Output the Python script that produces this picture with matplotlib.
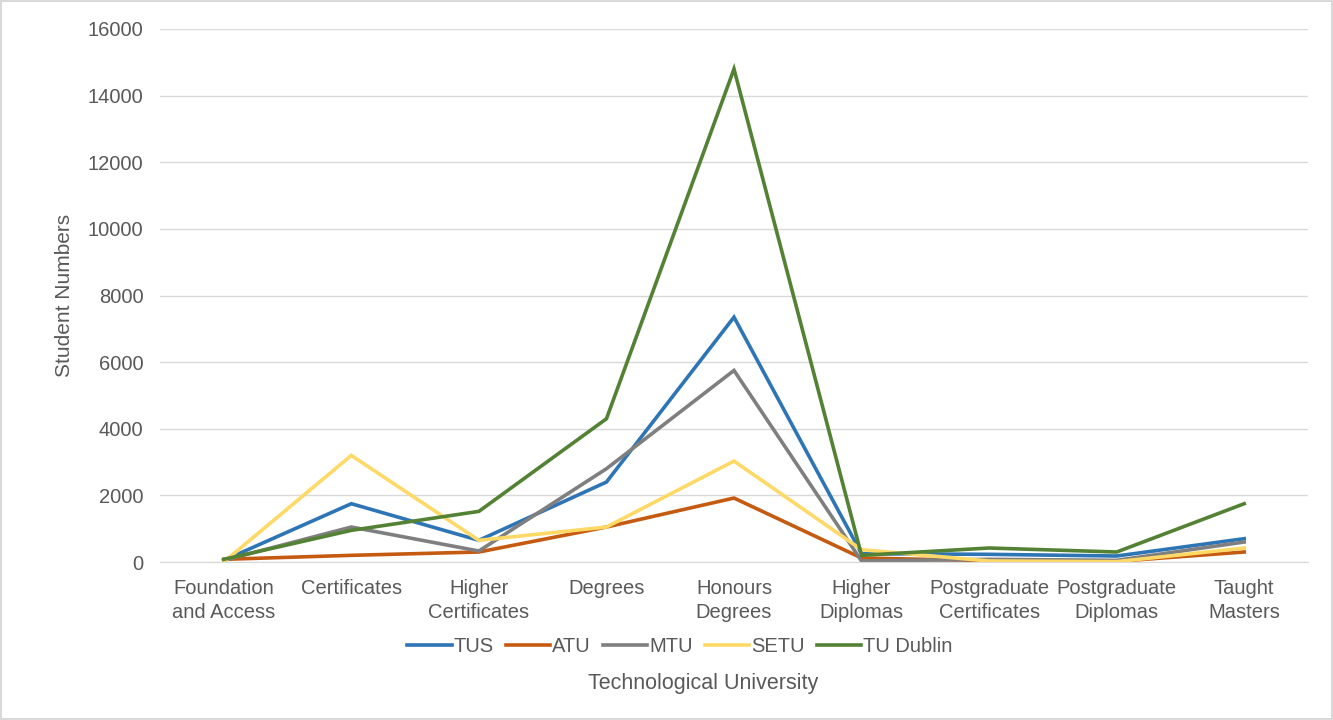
import numpy as np
import matplotlib.pyplot as plt

categories = ['Foundation\nand Access', 'Certificates', 'Higher\nCertificates', 'Degrees',
              'Honours\nDegrees', 'Higher\nDiplomas', 'Postgraduate\nCertificates',
              'Postgraduate\nDiplomas', 'Taught\nMasters']
tus = [50, 1750, 650, 2400, 7350, 250, 230, 180, 700]
atu = [80, 200, 300, 1050, 1920, 120, 40, 20, 300]
mtu = [50, 1050, 330, 2800, 5750, 30, 80, 50, 600]
setu = [0, 3200, 650, 1050, 3030, 370, 30, 10, 420]
tud = [80, 950, 1520, 4300, 14800, 200, 420, 300, 1750]

series = [('TUS', tus, '#2E75B6'), ('ATU', atu, '#C55A11'), ('MTU', mtu, '#7F7F7F'),
          ('SETU', setu, '#FFD966'), ('TU Dublin', tud, '#548235')]

plt.rcParams['font.family'] = ['Liberation Sans', 'DejaVu Sans']
txt = '#595959'
fs = 14.5

fig = plt.figure(figsize=(13.33, 7.2), dpi=100)
fig.patch.set_edgecolor('#d9d9d9')
fig.patch.set_linewidth(1.5)
ax = fig.add_axes([160/1333, 1-562/720, 1148/1333, 533/720])

x = np.arange(len(categories))
for name, vals, col in series:
    ax.plot(x, vals, color=col, lw=2.6, label=name, solid_joinstyle='miter')

ax.set_xlim(-0.5, len(categories)-0.5)
ax.set_ylim(0, 16000)
ax.set_yticks(range(0, 16001, 2000))
ax.set_xticks(x)
ax.set_xticklabels(categories, fontsize=fs, color=txt, linespacing=1.35)
ax.tick_params(axis='y', labelsize=fs, labelcolor=txt, length=0, pad=12)
ax.tick_params(axis='x', length=0, pad=12)
ax.grid(axis='y', color='#d9d9d9', lw=1)
ax.set_axisbelow(True)
for s in ['top', 'right', 'left']:
    ax.spines[s].set_visible(False)
ax.spines['bottom'].set_color('#d9d9d9')
ax.set_ylabel('Student Numbers', fontsize=15, color=txt, labelpad=10)

fig.legend(loc='center', bbox_to_anchor=(680/1333, 1-647/720), ncol=5, frameon=False,
           fontsize=fs, labelcolor=txt, handlelength=2.2, columnspacing=0.6,
           handletextpad=0.1)
fig.text(703/1333, 1-683/720, 'Technological University', ha='center', va='center',
         fontsize=15.5, color=txt)

fig.savefig('out.png', dpi=100, edgecolor=fig.get_edgecolor())
